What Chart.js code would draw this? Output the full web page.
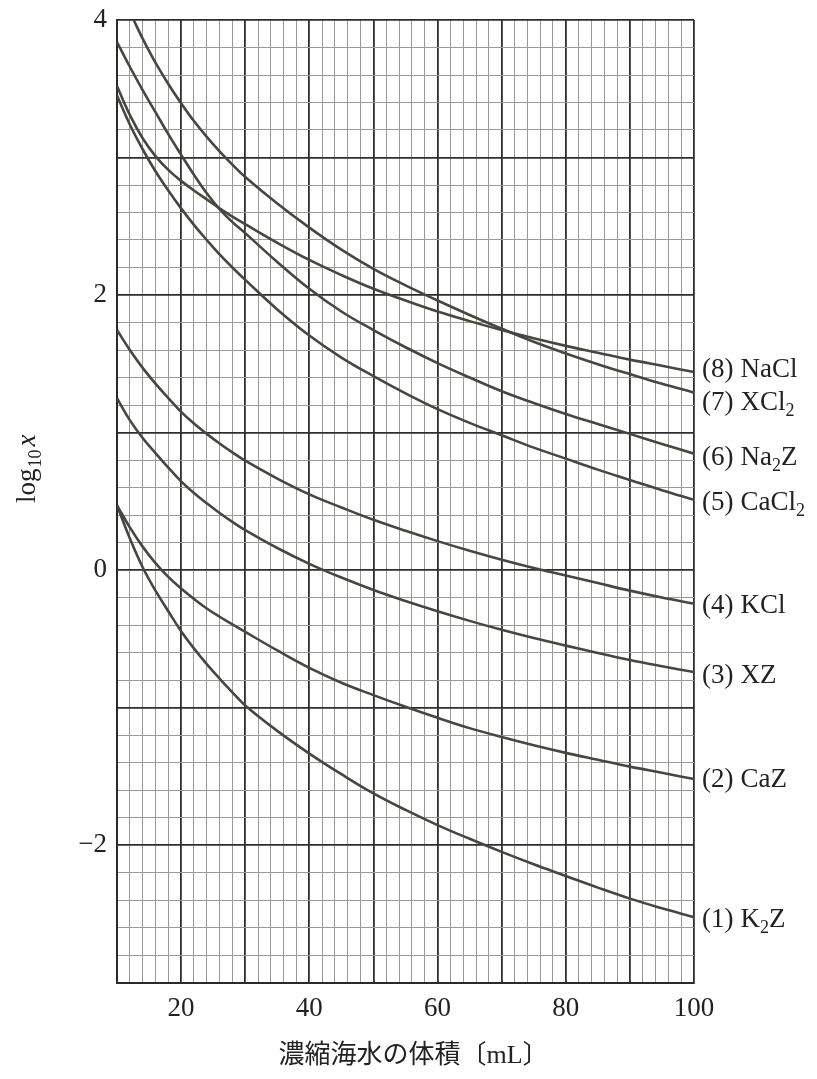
<!DOCTYPE html>
<html>
<head>
<meta charset="utf-8">
<script src="https://cdn.jsdelivr.net/npm/chart.js@4.4.1/dist/chart.umd.min.js"></script>
<style>
html,body{margin:0;padding:0;background:#ffffff;}
#wrap{width:817px;height:1079px;position:relative;}
</style>
</head>
<body>
<div id="wrap"><canvas id="c"></canvas></div>
<script>
// ---------- data ----------
const volumes = [10,12,14,16,18,20,22,24,26,28,30,35,40,45,50,55,60,65,70,75,80,85,90,95,100];
const volumesXCl2 = [12.6,14,16,18,20,22,24,26,28,30,35,40,45,50,55,60,65,70,75,80,85,90,95,100];

const logNaCl  = [3.52,3.31,3.14,3.01,2.91,2.83,2.76,2.695,2.63,2.57,2.515,2.38,2.255,2.145,2.045,1.96,1.88,1.81,1.745,1.685,1.63,1.58,1.53,1.485,1.44];
const logXCl2  = [4.00,3.865,3.69,3.535,3.395,3.265,3.15,3.045,2.948,2.858,2.665,2.49,2.33,2.19,2.07,1.96,1.855,1.755,1.66,1.575,1.497,1.425,1.355,1.29];
const logNa2Z  = [3.84,3.66,3.49,3.33,3.17,3.02,2.875,2.74,2.625,2.53,2.45,2.24,2.045,1.88,1.745,1.62,1.505,1.40,1.30,1.215,1.135,1.062,0.99,0.917,0.846];
const logCaCl2 = [3.45,3.24,3.06,2.90,2.76,2.63,2.51,2.40,2.295,2.20,2.11,1.895,1.705,1.545,1.41,1.285,1.17,1.07,0.98,0.89,0.81,0.73,0.655,0.58,0.51];
const logKCl   = [1.745,1.60,1.47,1.355,1.25,1.15,1.065,0.99,0.92,0.855,0.795,0.665,0.55,0.455,0.365,0.285,0.21,0.14,0.075,0.015,-0.04,-0.095,-0.15,-0.20,-0.245];
const logXZ    = [1.25,1.09,0.96,0.85,0.745,0.645,0.56,0.485,0.415,0.35,0.29,0.16,0.045,-0.055,-0.145,-0.225,-0.30,-0.37,-0.435,-0.495,-0.55,-0.603,-0.655,-0.70,-0.742];
const logCaZ   = [0.47,0.31,0.17,0.05,-0.05,-0.135,-0.21,-0.28,-0.34,-0.395,-0.45,-0.585,-0.712,-0.82,-0.91,-0.995,-1.075,-1.15,-1.215,-1.275,-1.33,-1.38,-1.43,-1.475,-1.52];
const logK2Z   = [0.47,0.23,0.02,-0.15,-0.30,-0.445,-0.57,-0.685,-0.79,-0.89,-0.985,-1.17,-1.335,-1.485,-1.625,-1.745,-1.855,-1.955,-2.05,-2.14,-2.225,-2.31,-2.39,-2.46,-2.525];

const seriesNumbers  = ['(8)','(7)','(6)','(5)','(4)','(3)','(2)','(1)'];
const seriesFormulas = ['NaCl','XCl_2','Na_2Z','CaCl_2','KCl','XZ','CaZ','K_2Z'];

const xTickLabels = [20,40,60,80,100];
const yTickLabels = [4,2,0,-2];
const xTitle = '濃縮海水の体積〔mL〕';
const yTitleParts = ['log','10','x'];

// ---------- style ----------
const SERIF = '"Liberation Serif", "Times New Roman", serif';
const INK = '#222222';
const CURVE = '#474742';
const labelNudge = [-4, 8, 2, 1, 0, 2, -1, 1];

function pts(xs, ys){ return xs.map((v,i)=>({x:v,y:ys[i]})); }
const seriesData = [
  pts(volumes, logNaCl), pts(volumesXCl2, logXCl2), pts(volumes, logNa2Z), pts(volumes, logCaCl2),
  pts(volumes, logKCl), pts(volumes, logXZ), pts(volumes, logCaZ), pts(volumes, logK2Z)
];

const datasets = seriesData.map((d,i)=>({
  label: seriesNumbers[i] + ' ' + seriesFormulas[i].replace('_',''),
  num: seriesNumbers[i],
  formula: seriesFormulas[i],
  nudge: labelNudge[i],
  data: d,
  borderColor: CURVE,
  borderWidth: 2.6,
  pointRadius: 0,
  fill: false,
  tension: 0.4
}));

function isInt(v){ return Math.abs(v - Math.round(v)) < 1e-6; }

const textPlugin = {
  id: 'texts',
  afterDatasetsDraw(chart){
    const {ctx, chartArea, scales:{y}} = chart;
    ctx.save();
    ctx.fillStyle = INK;
    ctx.textAlign = 'left';
    ctx.textBaseline = 'alphabetic';
    // end labels
    chart.data.datasets.forEach(ds=>{
      const last = ds.data[ds.data.length-1].y;
      const base = y.getPixelForValue(last) + ds.nudge + 9;
      let xp = chartArea.right + 8;
      ctx.font = '27px ' + SERIF;
      ctx.fillText(ds.num, xp, base);
      xp += ctx.measureText(ds.num).width + 7;
      ds.formula.split(/(_\d)/).filter(Boolean).forEach(p=>{
        if (p[0] === '_') {
          ctx.font = '18px ' + SERIF;
          ctx.fillText(p.slice(1), xp, base + 6);
          xp += ctx.measureText(p.slice(1)).width;
        } else {
          ctx.font = '27px ' + SERIF;
          ctx.fillText(p, xp, base);
          xp += ctx.measureText(p).width;
        }
      });
    });
    // y title (rotated, with subscript)
    ctx.save();
    ctx.translate(35, 503);
    ctx.rotate(-Math.PI/2);
    ctx.font = '27px ' + SERIF;
    ctx.fillText(yTitleParts[0], 0, 0);
    let w = ctx.measureText(yTitleParts[0]).width + 1;
    ctx.font = '18px ' + SERIF;
    ctx.fillText(yTitleParts[1], w, 6);
    w += ctx.measureText(yTitleParts[1]).width + 3;
    ctx.font = 'italic 27px ' + SERIF;
    ctx.fillText(yTitleParts[2], w, 0);
    ctx.restore();
    // x title
    ctx.font = '26px "Liberation Serif", "Noto Sans CJK JP", serif';
    ctx.textAlign = 'center';
    ctx.textBaseline = 'middle';
    ctx.fillText(xTitle, (chartArea.left + chartArea.right)/2 + 8, 1056);
    ctx.restore();
  }
};

new Chart(document.getElementById('c'), {
  type: 'line',
  data: { datasets },
  options: {
    responsive: true,
    maintainAspectRatio: false,
    animation: false,
    layout: { padding: { left: 0, right: 123, top: 20, bottom: 0 } },
    plugins: { legend: { display: false }, tooltip: { enabled: false } },
    scales: {
      x: {
        type: 'linear', min: 10, max: 100,
        afterFit(s){ s.height = 96.5; s.paddingLeft = 0; s.paddingRight = 0; },
        border: { display: true, color: '#2a2a2a', width: 2 },
        grid: {
          drawTicks: false,
          color: c => (c.tick && isInt(c.tick.value/10)) ? '#2e2e2e' : '#9a9a9a',
          lineWidth: c => (c.tick && isInt(c.tick.value/10)) ? 1.8 : 1
        },
        ticks: {
          stepSize: 2, autoSkip: false, maxRotation: 0, padding: 10,
          color: INK, font: { family: SERIF, size: 27 },
          callback: v => xTickLabels.includes(Math.round(v)) && isInt(v) ? String(Math.round(v)) : ''
        }
      },
      y: {
        type: 'linear', min: -3, max: 4,
        afterFit(s){ s.width = 117; s.paddingTop = 0; s.paddingBottom = 0; },
        border: { display: true, color: '#2a2a2a', width: 2 },
        grid: {
          drawTicks: false,
          color: c => (c.tick && isInt(c.tick.value)) ? '#2e2e2e' : '#9a9a9a',
          lineWidth: c => (c.tick && isInt(c.tick.value)) ? 1.8 : 1
        },
        ticks: {
          stepSize: 0.2, autoSkip: false, padding: 10,
          color: INK, font: { family: SERIF, size: 27 },
          callback: v => (isInt(v) && yTickLabels.includes(Math.round(v))) ? (Math.round(v) < 0 ? '\u2212' + Math.abs(Math.round(v)) : String(Math.round(v))) : ''
        }
      }
    }
  },
  plugins: [textPlugin]
});
</script>
</body>
</html>
